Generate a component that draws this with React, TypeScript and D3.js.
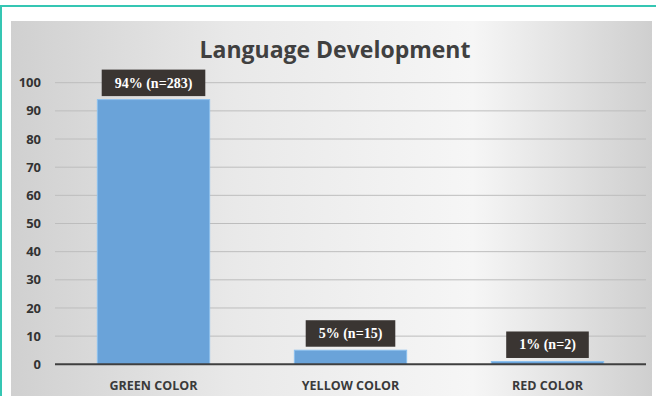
import React, { useEffect, useRef } from "react";
import * as d3 from "d3";

const categories = ["GREEN COLOR", "YELLOW COLOR", "RED COLOR"];
const values = [94, 5, 1];
const valueLabels = ["94% (n=283)", "5% (n=15)", "1% (n=2)"];
const yTicks = [0, 10, 20, 30, 40, 50, 60, 70, 80, 90, 100];
const title = "Language Development";

const W = 656;
const H = 396;

export default function App() {
  const ref = useRef<SVGSVGElement>(null);

  useEffect(() => {
    const svg = d3.select(ref.current);
    svg.selectAll("*").remove();

    const defs = svg.append("defs");
    const g1 = defs
      .append("linearGradient")
      .attr("id", "bgGrad")
      .attr("x1", "0").attr("y1", "0").attr("x2", "1").attr("y2", "0");
    g1.append("stop").attr("offset", "0").attr("stop-color", "#d0d0d0");
    g1.append("stop").attr("offset", "0.35").attr("stop-color", "#e9e9e9");
    g1.append("stop").attr("offset", "0.72").attr("stop-color", "#f6f6f6");
    g1.append("stop").attr("offset", "1").attr("stop-color", "#cfcfcf");

    svg.append("rect").attr("x", 0).attr("y", 0).attr("width", W).attr("height", H).attr("fill", "#ffffff");
    svg.append("line").attr("x1", 0).attr("x2", W).attr("y1", 6).attr("y2", 6)
      .attr("stroke", "#35c6b3").attr("stroke-width", 2);
    svg.append("line").attr("x1", 1).attr("x2", 1).attr("y1", 6).attr("y2", H)
      .attr("stroke", "#35c6b3").attr("stroke-width", 2);

    svg.append("rect").attr("x", 11).attr("y", 21).attr("width", 641).attr("height", H - 21)
      .attr("fill", "url(#bgGrad)");

    const x = d3.scaleBand<string>()
      .domain(categories)
      .range([55, 646])
      .paddingInner(0.43)
      .paddingOuter(0.215);
    const y = d3.scaleLinear().domain([0, 100]).range([364.3, 82.7]);

    svg.append("g")
      .selectAll("line")
      .data(yTicks.filter((t) => t !== 0))
      .join("line")
      .attr("x1", 55).attr("x2", 646)
      .attr("y1", (d) => y(d)).attr("y2", (d) => y(d))
      .attr("stroke", "#bdbdbd").attr("stroke-width", 1);

    svg.append("g")
      .selectAll("text")
      .data(yTicks)
      .join("text")
      .attr("x", 41)
      .attr("y", (d) => y(d))
      .attr("dy", "0.35em")
      .attr("text-anchor", "end")
      .attr("font-family", "'Open Sans', sans-serif")
      .attr("font-weight", 700)
      .attr("font-size", 13)
      .attr("fill", "#333333")
      .text((d) => String(d));

    svg.append("g")
      .selectAll("rect")
      .data(values)
      .join("rect")
      .attr("x", (_d, i) => x(categories[i])!)
      .attr("width", x.bandwidth())
      .attr("y", (d) => y(d))
      .attr("height", (d) => y(0) - y(d))
      .attr("fill", "#6aa3d9")
      .attr("stroke", "#8cc0ee")
      .attr("stroke-width", 1);

    svg.append("line").attr("x1", 55).attr("x2", 646).attr("y1", y(0)).attr("y2", y(0))
      .attr("stroke", "#3f3f3f").attr("stroke-width", 2);

    svg.append("g")
      .selectAll("text")
      .data(categories)
      .join("text")
      .attr("x", (d) => x(d)! + x.bandwidth() / 2)
      .attr("y", 386)
      .attr("dy", "0.35em")
      .attr("text-anchor", "middle")
      .attr("font-family", "'Open Sans', sans-serif")
      .attr("font-weight", 700)
      .attr("font-size", 12.5)
      .attr("fill", "#3a3a3a")
      .text((d) => d);

    const lab = svg.append("g")
      .selectAll("g")
      .data(values)
      .join("g")
      .attr("transform", (d, i) => `translate(${x(categories[i])! + x.bandwidth() / 2},${y(d) - 17})`);
    const rects = lab.append("rect").attr("fill", "#3a3532");
    const texts = lab.append("text")
      .attr("text-anchor", "middle")
      .attr("dy", "0.35em")
      .attr("font-family", "'Liberation Serif', 'Times New Roman', serif")
      .attr("font-weight", 700)
      .attr("font-size", 14)
      .attr("fill", "#ffffff")
      .text((_d, i) => valueLabels[i]);
    texts.each(function (_d, i) {
      const w = (this as SVGTextElement).getComputedTextLength();
      d3.select(rects.nodes()[i])
        .attr("x", -w / 2 - 13)
        .attr("width", w + 26)
        .attr("y", -13)
        .attr("height", 26.5);
    });

    svg.append("text")
      .attr("x", 335)
      .attr("y", 58)
      .attr("text-anchor", "middle")
      .attr("font-family", "'Open Sans', sans-serif")
      .attr("font-weight", 700)
      .attr("font-size", 23)
      .attr("fill", "#404040")
      .text(title);
  }, []);

  return (
    <svg
      ref={ref}
      width={W}
      height={H}
      style={{ position: "absolute", left: 0, top: 0, display: "block" }}
    />
  );
}
